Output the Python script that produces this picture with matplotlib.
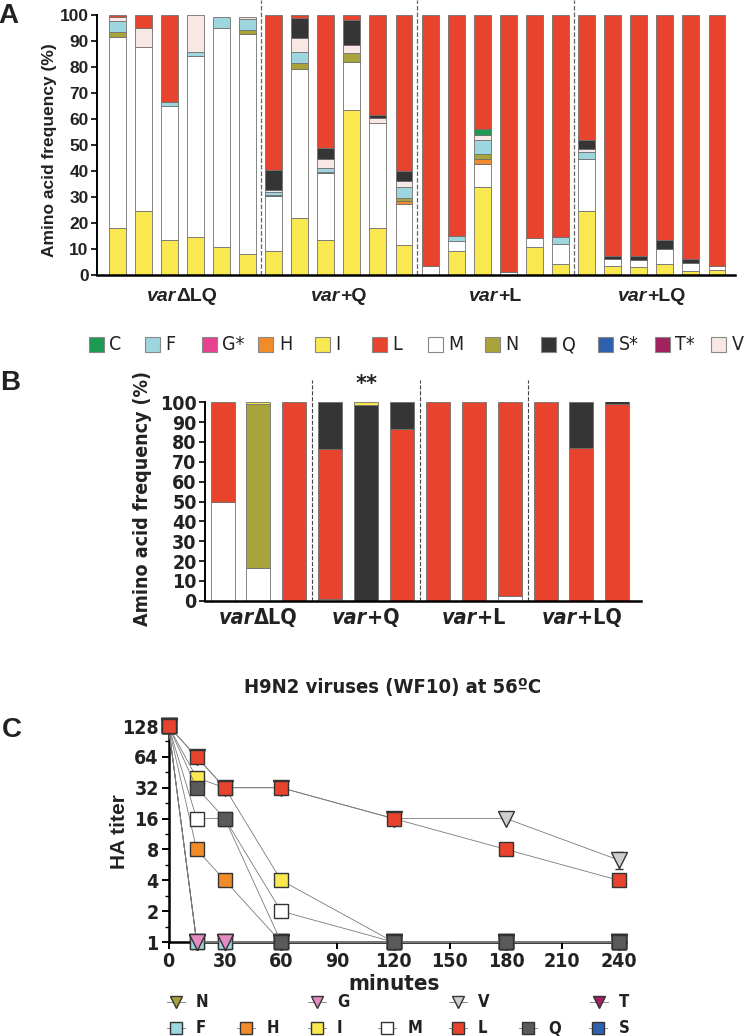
import numpy as np
import matplotlib.pyplot as plt
from matplotlib import font_manager
from matplotlib.lines import Line2D
from matplotlib.patches import Rectangle
from matplotlib.offsetbox import TextArea, HPacker, AnnotationBbox
from matplotlib.ticker import FixedLocator, NullFormatter

W, H = 750, 1036
ARIAL = ['Liberation Sans', 'DejaVu Sans']

# narrow font for panels B and C, if a condensed face is around
NARROW = ['Liberation Sans', 'DejaVu Sans']
STRETCH = 'normal'
for fam in ['Liberation Sans Narrow', 'DejaVu Sans']:
    try:
        f = font_manager.findfont(font_manager.FontProperties(family=fam, stretch='condensed',
                                                              weight='bold'),
                                  fallback_to_default=False)
    except ValueError:
        continue
    if 'Narrow' in f or 'Condensed' in f:
        NARROW = [fam, 'Liberation Sans', 'DejaVu Sans']
        STRETCH = 'condensed'
        break

colors = {'C': '#1c9a52', 'F': '#9ed6df', 'G*': '#e8418f', 'H': '#f28c2b',
          'I': '#f9e84f', 'L': '#e8432d', 'M': '#ffffff', 'N': '#a9a43a',
          'Q': '#353535', 'S*': '#2f62ae', 'T*': '#a2215f', 'V': '#f8e7e4'}
legend_a = ['C', 'F', 'G*', 'H', 'I', 'L', 'M', 'N', 'Q', 'S*', 'T*', 'V']
groups = ['\u0394LQ', '+Q', '+L', '+LQ']

# panel A: amino acid frequency (%) per clone, 6 clones per group
A_I = [18.0, 24.7, 13.5, 14.7, 10.7, 8.0, 9.4, 21.8, 13.5, 63.5, 18.0, 11.5,
       0, 9.1, 33.7, 0, 10.9, 4.1, 24.7, 3.5, 3.2, 4.1, 1.5, 1.9]
A_M = [73.4, 62.9, 51.6, 69.5, 84.2, 84.6, 21.1, 57.3, 25.8, 18.5, 40.3, 15.8,
       3.6, 3.9, 9.0, 1.2, 3.3, 7.7, 20.0, 2.5, 2.6, 6.0, 3.2, 1.7]
A_H = [0, 0, 0, 0, 0, 0, 0, 0, 0, 0, 0, 1.0,
       0, 0, 2.0, 0, 0, 0, 0, 0, 0, 0, 0, 0]
A_N = [1.9, 0, 0, 0, 0, 1.6, 0, 2.3, 0, 3.3, 0, 1.4,
       0, 0, 2.0, 0, 0, 0, 0, 0, 0, 0, 0, 0]
A_S = [0, 0, 0, 0, 0, 0, 0.4, 0, 0.3, 0, 0, 0,
       0, 0, 0, 0, 0, 0, 0, 0, 0, 0, 0, 0]
A_F = [4.5, 0, 1.6, 1.5, 4.3, 4.3, 0.9, 4.3, 1.4, 0, 0, 4.0,
       0, 2.0, 5.1, 0, 0, 2.7, 2.6, 0, 0, 0, 0, 0]
A_V = [1.3, 7.3, 0, 14.3, 0, 0.6, 0.9, 5.3, 3.6, 3.2, 2.0, 2.6,
       0, 0, 2.2, 0, 0, 0, 1.3, 0, 0, 0, 0, 0]
A_C = [0, 0, 0, 0, 0, 0, 0, 0, 0, 0, 0, 0,
       0, 0, 2.0, 0, 0, 0, 0, 0, 0, 0, 0, 0]
A_Q = [0, 0, 0, 0, 0, 0, 7.7, 8.0, 4.1, 9.6, 1.2, 3.8,
       0, 0, 0, 0, 0, 0, 3.3, 1.4, 1.6, 3.5, 1.3, 0]
A_L = [0.9, 5.1, 33.3, 0, 0, 0, 59.6, 1.0, 51.3, 1.9, 38.5, 59.9,
       96.4, 85.0, 44.0, 98.8, 85.8, 85.5, 48.1, 92.6, 92.6, 86.4, 94.0, 96.4]

# panel B: 3 clones per group
B_M = [49.7, 16.7, 0, 0, 0, 0, 0, 0, 2.5, 0, 0, 0]
B_V = [0, 0, 0, 1.0, 0, 0, 0, 0, 0, 0, 0, 0]
B_N = [0, 82.6, 0, 0, 0, 0, 0, 0, 0, 0, 0, 0]
B_L = [50.3, 0, 100, 75.5, 0, 86.5, 100, 100, 97.5, 100, 77.0, 99.3]
B_Q = [0, 0, 0, 23.5, 98.5, 13.5, 0, 0, 0, 0, 23.0, 1.5]
B_I = [0, 0.7, 0, 0, 1.5, 0, 0, 0, 0, 0, 0, 0]

# panel C: HA titer vs time at 56C
t_min = [0, 15, 30, 60, 120, 180, 240]
C_N = [128, 1, 1, 1, 1, 1, 1]
C_G = [128, 1, 1, 1, 1, 1, 1]
C_V = [128, 64, 32, 32, 16, 16, 6.3]
C_V_err = [0, 0, 0, 0, 0, 0, 1.2]
C_T = [128, 1, 1, 1, 1, 1, 1]
C_F = [128, 1, 1, 1, 1, 1, 1]
C_H = [128, 8, 4, 1, 1, 1, 1]
C_I = [128, 40, 32, 4, 1, 1, 1]
C_I_err = [0, 6, 0, 0, 0, 0, 0]
C_M = [128, 16, 16, 2, 1, 1, 1]
C_L = [128, 64, 32, 32, 16, 8, 4]
C_Q = [128, 32, 16, 1, 1, 1, 1]
C_S = [128, 1, 1, 1, 1, 1, 1]


def px(x, y):
    return x / W, 1 - y / H


def axes_px(fig, left, top, right, bottom):
    return fig.add_axes([left / W, 1 - bottom / H, (right - left) / W, (bottom - top) / H])


def stack(ax, layers, width):
    bottom = np.zeros(len(layers[0][0]))
    x = np.arange(len(bottom))
    for vals, key in layers:
        vals = np.array(vals, float)
        m = vals > 0
        ax.bar(x[m], vals[m], width, bottom=bottom[m], color=colors[key],
               edgecolor='#707070', linewidth=0.6, zorder=2)
        bottom += vals


def var_label(ax, x, y, suffix, size, family, stretch='normal'):
    box = HPacker(children=[
        TextArea('var', textprops=dict(fontstyle='italic', fontweight='bold', fontstretch=stretch,
                                       fontsize=size, family=family, color='#222')),
        TextArea(suffix, textprops=dict(fontweight='bold', fontsize=size, fontstretch=stretch,
                                        family=family, color='#222'))],
        align='baseline', pad=0, sep=0)
    ab = AnnotationBbox(box, (x, y), xycoords=ax.get_xaxis_transform(),
                        frameon=False, box_alignment=(0.5, 0.5), annotation_clip=False)
    ax.add_artist(ab)


def bold_ticks(labels, size, family, stretch='normal'):
    for lab in labels:
        lab.set_fontweight('bold')
        lab.set_fontsize(size)
        lab.set_family(family)
        lab.set_fontstretch(stretch)
        lab.set_color('#222')


def style_bar_axes(ax):
    for s in ['top', 'right']:
        ax.spines[s].set_visible(False)
    ax.spines['left'].set_linewidth(1.4)
    ax.spines['bottom'].set_linewidth(1.8)
    ax.set_ylim(0, 100)
    ax.set_yticks(range(0, 101, 10))
    ax.set_xticks([])
    ax.tick_params(axis='y', width=1.2, length=4, pad=2)


fig = plt.figure(figsize=(7.5, 10.36), dpi=100)

# ---------- panel A ----------
axA = axes_px(fig, 97, 15, 735, 275)
stack(axA, [(A_I, 'I'), (A_M, 'M'), (A_H, 'H'), (A_N, 'N'), (A_S, 'S*'), (A_F, 'F'),
            (A_V, 'V'), (A_C, 'C'), (A_Q, 'Q'), (A_L, 'L')], 0.65)
axA.set_xlim(-0.77, 23.69)
style_bar_axes(axA)
bold_ticks(axA.get_yticklabels(), 12.5, ARIAL)
for xd in [5.5, 11.5, 17.5]:
    axA.plot([xd, xd], [0, 105.8], ls='--', color='#666', lw=0.9, clip_on=False, zorder=1)
for i, g in enumerate(groups):
    var_label(axA, 6 * i + 2.5, -0.082, g, 14, ARIAL)
fig.text(*px(50, 150), 'Amino acid frequency (%)', rotation=90, ha='center', va='center',
         fontsize=12.5, fontweight='bold', family=ARIAL, color='#222')
fig.text(*px(8, 16), 'A', ha='center', va='center', fontsize=20, fontweight='bold',
         family=ARIAL, color='#222')

# legend of panel A
for i, name in enumerate(legend_a):
    cx = 96 + i * 56.6
    x0, y0 = px(cx - 7.5, 352)
    fig.add_artist(Rectangle((x0, y0), 15 / W, 15 / H, transform=fig.transFigure,
                             facecolor=colors[name], edgecolor='#888', lw=0.8))
    fig.text(*px(cx + 13, 345), name, ha='left', va='center', fontsize=14,
             family=NARROW, fontstretch=STRETCH, color='#222')

# ---------- panel B ----------
axB = axes_px(fig, 205, 402.3, 641, 600.7)
stack(axB, [(B_M, 'M'), (B_V, 'V'), (B_N, 'N'), (B_L, 'L'), (B_Q, 'Q'), (B_I, 'I')], 0.67)
axB.set_xlim(-0.49, 11.66)
style_bar_axes(axB)
bold_ticks(axB.get_yticklabels(), 14, NARROW, STRETCH)
for xd in [2.5, 5.5, 8.5]:
    axB.plot([xd, xd], [0, 111], ls='--', color='#444', lw=0.8, clip_on=False, zorder=1)
for i, g in enumerate(groups):
    var_label(axB, 3 * i + 1, -0.088, g, 15.5, NARROW, STRETCH)
axB.text(4, 104, '**', ha='center', va='bottom', fontsize=15, fontweight='bold',
         family=NARROW, color='#222')
fig.text(*px(143, 498), 'Amino acid frequency (%)', rotation=90, ha='center', va='center',
         fontsize=14, fontweight='bold', family=NARROW, fontstretch=STRETCH, color='#222')
fig.text(*px(10, 383), 'B', ha='center', va='center', fontsize=20, fontweight='bold',
         family=ARIAL, color='#222')

# ---------- panel C ----------
axC = axes_px(fig, 168.5, 726, 618.7, 942)
axC.set_yscale('log', base=2)
c_series = [
    (C_T, None, 'T*', 'v'), (C_S, None, 'S*', 's'), (C_N, None, 'N', 'v'),
    (C_F, None, 'F', 's'), (C_G, None, 'G*', 'v'), (C_H, None, 'H', 's'),
    (C_M, None, 'M', 's'), (C_I, C_I_err, 'I', 's'), (C_Q, None, 'Q', 's'),
    (C_V, C_V_err, 'V', 'v'), (C_L, None, 'L', 's'),
]
c_colors = dict(colors, **{'G*': '#e68ac4', 'Q': '#5a5a5a', 'V': '#cfcfcf'})
for k, (vals, err, key, mk) in enumerate(c_series):
    ms = 10.5 if mk == 's' else 11
    axC.errorbar(t_min, vals, yerr=err, color='#7a7a7a', lw=0.6, marker=mk, ms=ms,
                 mfc=c_colors[key], mec='#333', mew=1.0, ecolor='#333', elinewidth=1.0,
                 capsize=3, clip_on=False, zorder=3 + k)
axC.set_xlim(0, 240)
axC.set_ylim(1, 128)
axC.set_xticks(range(0, 241, 30))
axC.set_yticks([1, 2, 4, 8, 16, 32, 64, 128])
axC.set_yticklabels(['1', '2', '4', '8', '16', '32', '64', '128'])
axC.yaxis.set_minor_locator(FixedLocator([1.41, 2.83, 5.66, 11.3, 22.6, 45.3, 90.5]))
axC.yaxis.set_minor_formatter(NullFormatter())
for s in ['top', 'right']:
    axC.spines[s].set_visible(False)
axC.spines['left'].set_linewidth(1.8)
axC.spines['bottom'].set_linewidth(1.8)
axC.spines['bottom'].set_bounds(0, 244)
axC.tick_params(axis='both', which='major', width=1.4, length=5, pad=2)
axC.tick_params(axis='y', which='minor', width=1.0, length=3)
bold_ticks(axC.get_xticklabels() + axC.get_yticklabels(), 14, NARROW, STRETCH)

fig.text(*px(393, 688), 'H9N2 viruses (WF10) at 56\u00baC', ha='center', va='center',
         fontsize=14.5, fontweight='bold', family=NARROW, fontstretch=STRETCH, color='#222')
fig.text(*px(12, 730), 'C', ha='center', va='center', fontsize=20, fontweight='bold',
         family=ARIAL, color='#222')
fig.text(*px(119, 832), 'HA titer', rotation=90, ha='center', va='center',
         fontsize=15, fontweight='bold', family=ARIAL, color='#222')
fig.text(*px(394, 984), 'minutes', ha='center', va='center', fontsize=16,
         fontweight='bold', family=NARROW, fontstretch=STRETCH, color='#222')

# legend of panel C
legend_c = [(['N', 'G*', 'V', 'T*'], 'v', 1002, 176, 141),
            (['F', 'H', 'I', 'M', 'L', 'Q', 'S*'], 's', 1028, 176, 70.4)]
for names, mk, y, x0, dx in legend_c:
    for i, name in enumerate(names):
        cx = x0 + i * dx
        xa, ya = px(cx - 9, y)
        xb, _ = px(cx + 9, y)
        fig.add_artist(Line2D([xa, xb], [ya, ya], color='#777', lw=0.6,
                              transform=fig.transFigure))
        xm, ym = px(cx, y)
        fig.add_artist(Line2D([xm], [ym], marker=mk, ms=9, mfc=c_colors[name], mec='#333',
                              mew=1.0, transform=fig.transFigure))
        fig.text(*px(cx + 20, y), name.rstrip('*'), ha='left', va='center', fontsize=12,
                 fontweight='bold', family=NARROW, fontstretch=STRETCH, color='#222')

fig.savefig('out.png', dpi=100)
